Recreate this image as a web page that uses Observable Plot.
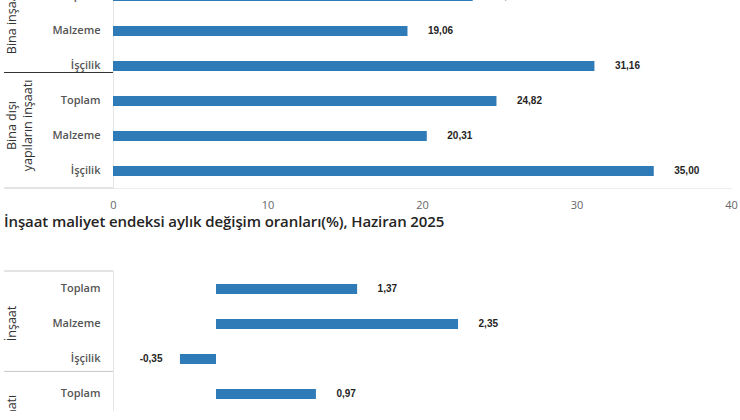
<!DOCTYPE html>
<html>
<head>
<meta charset="utf-8">
<script src="https://cdn.jsdelivr.net/npm/d3@7"></script>
<script src="https://cdn.jsdelivr.net/npm/@observablehq/plot@0.6"></script>
<style>
  body { margin: 0; background: #fff; }
  #wrap { position: relative; width: 740px; height: 420px; overflow: hidden; background: #fff; }
  #annual { position: absolute; left: 0; top: -32px; }
  #monthly { position: absolute; left: 0; top: 260.8px; }
  #title { position: absolute; left: 4px; top: 213px; font-family: "Open Sans", sans-serif; font-weight: 600; font-size: 15px; letter-spacing: -0.1px; color: #252423; white-space: nowrap; line-height: 16px; }
</style>
</head>
<body>
<div id="wrap">
  <div id="annual"></div>
  <div id="title"></div>
  <div id="monthly"></div>
</div>
<script>
// ---- data ----
const annualGroups = ["Bina inşaatı", "Bina inşaatı", "Bina inşaatı",
  "Bina dışı yapıların inşaatı", "Bina dışı yapıların inşaatı", "Bina dışı yapıların inşaatı"];
const annualItems = ["Toplam", "Malzeme", "İşçilik", "Toplam", "Malzeme", "İşçilik"];
const annualValues = [23.28, 19.06, 31.16, 24.82, 20.31, 35.00];
const annualTicks = [0, 10, 20, 30, 40];

const monthlyTitle = "İnşaat maliyet endeksi aylık değişim oranları(%), Haziran 2025";
const monthlyGroups = ["İnşaat", "İnşaat", "İnşaat", "Bina inşaatı"];
const monthlyItems = ["Toplam", "Malzeme", "İşçilik", "Toplam"];
const monthlyValues = [1.37, 2.35, -0.35, 0.97];

const groupLabelText = {
  "Bina inşaatı": "Bina inşaatı",
  "Bina dışı yapıların inşaatı": "Bina dışı\nyapıların inşaatı",
  "İnşaat": "İnşaat"
};

// ---- helpers ----
const barColor = "#2f7bb8";
const fmt = v => v.toFixed(2).replace(".", ",");

function buildRows(groups, items, values) {
  return groups.map((g, i) => ({group: g, item: items[i], value: values[i], key: g + "|" + items[i]}));
}

function firstOfGroups(rows) {
  const seen = new Set();
  return rows.filter(r => (seen.has(r.group) ? false : (seen.add(r.group), true)));
}

function lastOfGroups(rows) {
  const m = new Map();
  rows.forEach(r => m.set(r.group, r));
  return [...m.values()];
}

// custom mark: group separator lines in the left margin, positioned from the y scale
function leftSeparators(keys, offset, color, edge) {
  return (index, scales, values, dimensions) => {
    const y = scales.y;
    const bw = y.bandwidth ? y.bandwidth() : 0;
    const g = d3.create("svg:g");
    for (const k of keys) {
      if (!y.domain().includes(k)) continue;
      const yy = y(k) + bw / 2 + offset;
      g.append("line").attr("x1", 4).attr("x2", dimensions.marginLeft)
        .attr("y1", yy).attr("y2", yy).attr("stroke", color).attr("stroke-width", 1);
    }
    if (edge) {
      const yy = edge === "top" ? dimensions.marginTop : dimensions.height - dimensions.marginBottom;
      g.append("line").attr("x1", 4).attr("x2", dimensions.marginLeft)
        .attr("y1", yy).attr("y2", yy).attr("stroke", "#c8c8c8").attr("stroke-width", 1);
    }
    return g.node();
  };
}

function chart({rows, xDomain, ticks, marginBottom, height, sepOffset, sepColor, edge, groupDy, showBottom}) {
  const keys = rows.map(r => r.key);
  const pos = rows.filter(r => r.value >= 0);
  const neg = rows.filter(r => r.value < 0);
  const groupRows = firstOfGroups(rows);
  const sepKeys = lastOfGroups(rows).slice(0, -1).map(r => r.key);
  return Plot.plot({
    width: 740,
    height,
    marginLeft: 113,
    marginRight: 9,
    marginTop: 10,
    marginBottom,
    style: {fontFamily: "Open Sans, sans-serif", fontSize: "11px", color: "#666", background: "#fff"},
    x: {domain: xDomain, ticks: ticks || [], tickSize: 0, tickPadding: 13, label: null, axis: ticks ? "bottom" : null},
    y: {domain: keys, paddingInner: 0.72, paddingOuter: 0.36, axis: null},
    marks: [
      Plot.frame({anchor: "left", stroke: "#e6e6e6"}),
      showBottom ? Plot.frame({anchor: "bottom", stroke: "#ececec"}) : null,
      Plot.barX(rows, {x: "value", y: "key", fill: barColor}),
      Plot.text(pos, {x: "value", y: "key", text: d => fmt(d.value), textAnchor: "start", dx: 20, dy: -1,
        fontFamily: "Liberation Sans, Arial, sans-serif", fontWeight: "bold", fontSize: 10, fill: "#252423"}),
      Plot.text(neg, {x: "value", y: "key", text: d => fmt(d.value), textAnchor: "end", dx: -18, dy: -1,
        fontFamily: "Liberation Sans, Arial, sans-serif", fontWeight: "bold", fontSize: 10, fill: "#252423"}),
      Plot.text(rows, {y: "key", text: "item", frameAnchor: "left", textAnchor: "end", dx: -13, dy: -1.5,
        fontSize: 11, fontWeight: 600, fill: "#555"}),
      Plot.text(groupRows, {y: "key", text: d => groupLabelText[d.group], frameAnchor: "left",
        rotate: -90, textAnchor: "middle", lineAnchor: "top", dx: -109, dy: groupDy,
        fontSize: 12.5, lineHeight: 1.3, fill: "#333"}),
      leftSeparators(sepKeys, sepOffset, sepColor, edge)
    ].filter(Boolean)
  });
}

const annualRows = buildRows(annualGroups, annualItems, annualValues);
const monthlyRows = buildRows(monthlyGroups, monthlyItems, monthlyValues);

document.getElementById("annual").append(chart({
  rows: annualRows, xDomain: [0, 40], ticks: annualTicks, marginBottom: 30, height: 250,
  sepOffset: 6.5, sepColor: "#333", edge: "bottom", groupDy: 24, showBottom: true
}));

document.getElementById("title").textContent = monthlyTitle;

document.getElementById("monthly").append(chart({
  rows: monthlyRows, xDomain: [-1, 5], ticks: null, marginBottom: 0, height: 150,
  sepOffset: 12.4, sepColor: "#c8c8c8", edge: "top", groupDy: 34, showBottom: false
}));
</script>
</body>
</html>
